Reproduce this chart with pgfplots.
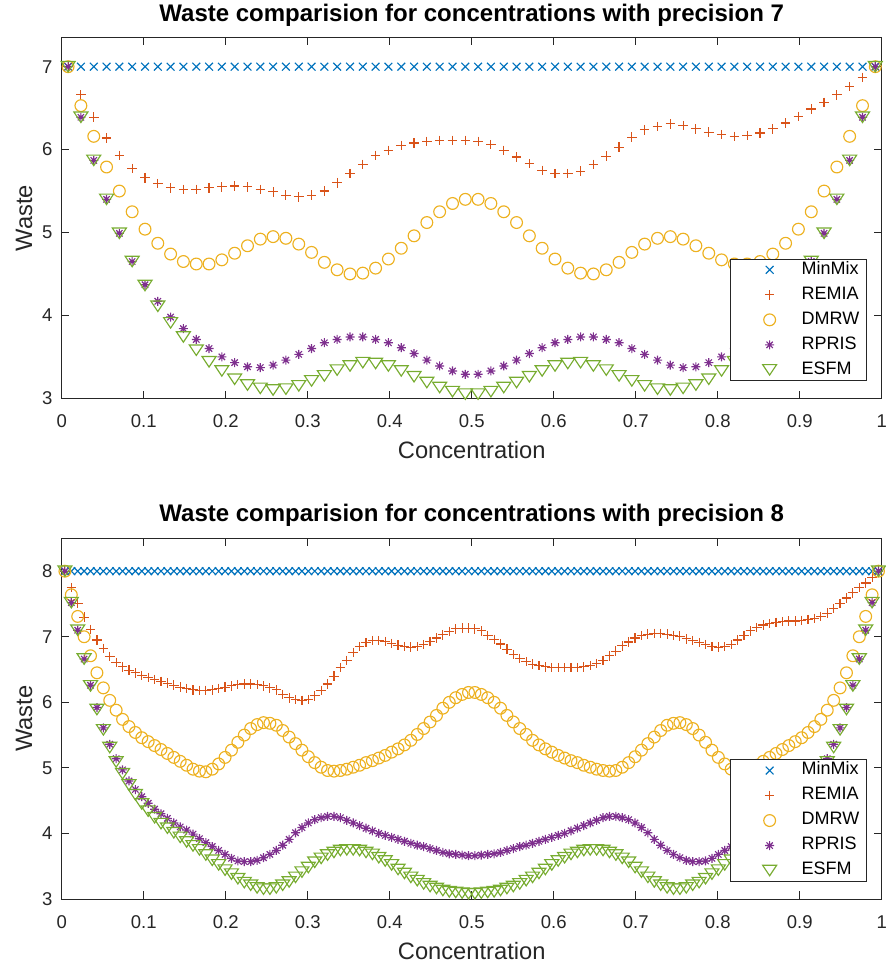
\documentclass[border=0pt]{standalone}
\usepackage{fontspec}
\setmainfont{Liberation Sans}
\usepackage{pgfplots}
\usepackage{pgfplotstable}
\pgfplotsset{compat=1.18}
\definecolor{c1}{rgb}{0,0.447,0.741}
\definecolor{c2}{rgb}{0.85,0.325,0.098}
\definecolor{c3}{rgb}{0.929,0.694,0.125}
\definecolor{c4}{rgb}{0.494,0.184,0.556}
\definecolor{c5}{rgb}{0.466,0.674,0.188}
\definecolor{ax}{rgb}{0.15,0.15,0.15}
\pgfdeclareplotmark{mstar}{%
 \pgfpathmoveto{\pgfqpoint{-\pgfplotmarksize}{0pt}}\pgfpathlineto{\pgfqpoint{\pgfplotmarksize}{0pt}}%
 \pgfpathmoveto{\pgfqpoint{0pt}{-\pgfplotmarksize}}\pgfpathlineto{\pgfqpoint{0pt}{\pgfplotmarksize}}%
 \pgfpathmoveto{\pgfqpoint{-.7071\pgfplotmarksize}{-.7071\pgfplotmarksize}}\pgfpathlineto{\pgfqpoint{.7071\pgfplotmarksize}{.7071\pgfplotmarksize}}%
 \pgfpathmoveto{\pgfqpoint{-.7071\pgfplotmarksize}{.7071\pgfplotmarksize}}\pgfpathlineto{\pgfqpoint{.7071\pgfplotmarksize}{-.7071\pgfplotmarksize}}%
 \pgfusepathqstroke}
\pgfdeclareplotmark{mtri}{%
 \pgfpathmoveto{\pgfqpoint{-\pgfplotmarksize}{.75\pgfplotmarksize}}%
 \pgfpathlineto{\pgfqpoint{\pgfplotmarksize}{.75\pgfplotmarksize}}%
 \pgfpathlineto{\pgfqpoint{0pt}{-.75\pgfplotmarksize}}%
 \pgfpathclose\pgfusepathqstroke}

\pgfplotstableread{
x m r d p e
0.0078 7 7.00 7.00 7.00 7.00
0.0234 7 6.66 6.53 6.39 6.39
0.0391 7 6.39 6.16 5.87 5.87
0.0547 7 6.14 5.79 5.40 5.40
0.0703 7 5.93 5.50 4.99 4.99
0.0859 7 5.77 5.25 4.65 4.65
0.1016 7 5.66 5.04 4.37 4.36
0.1172 7 5.59 4.87 4.17 4.11
0.1328 7 5.54 4.74 3.98 3.91
0.1484 7 5.52 4.65 3.84 3.74
0.1641 7 5.52 4.62 3.71 3.58
0.1797 7 5.54 4.62 3.60 3.44
0.1953 7 5.55 4.67 3.50 3.33
0.2109 7 5.56 4.75 3.43 3.23
0.2266 7 5.55 4.84 3.38 3.16
0.2422 7 5.52 4.92 3.37 3.12
0.2578 7 5.49 4.95 3.40 3.10
0.2734 7 5.45 4.93 3.46 3.11
0.2891 7 5.43 4.86 3.53 3.15
0.3047 7 5.45 4.76 3.60 3.21
0.3203 7 5.50 4.64 3.67 3.27
0.3359 7 5.60 4.55 3.71 3.34
0.3516 7 5.71 4.50 3.74 3.39
0.3672 7 5.82 4.51 3.74 3.43
0.3828 7 5.93 4.57 3.71 3.42
0.3984 7 5.99 4.68 3.67 3.39
0.4141 7 6.05 4.81 3.61 3.33
0.4297 7 6.08 4.96 3.54 3.26
0.4453 7 6.10 5.12 3.46 3.19
0.4609 7 6.11 5.25 3.39 3.13
0.4766 7 6.11 5.35 3.33 3.08
0.4922 7 6.11 5.40 3.29 3.05
0.5078 7 6.10 5.40 3.29 3.05
0.5234 7 6.06 5.35 3.33 3.08
0.5391 7 5.99 5.25 3.39 3.13
0.5547 7 5.91 5.12 3.46 3.19
0.5703 7 5.83 4.96 3.54 3.26
0.5859 7 5.75 4.81 3.61 3.33
0.6016 7 5.71 4.68 3.67 3.39
0.6172 7 5.71 4.57 3.71 3.42
0.6328 7 5.74 4.51 3.74 3.43
0.6484 7 5.82 4.50 3.74 3.39
0.6641 7 5.92 4.55 3.71 3.34
0.6797 7 6.03 4.64 3.67 3.27
0.6953 7 6.15 4.76 3.60 3.21
0.7109 7 6.24 4.86 3.53 3.15
0.7266 7 6.28 4.93 3.46 3.11
0.7422 7 6.31 4.95 3.40 3.10
0.7578 7 6.29 4.92 3.37 3.12
0.7734 7 6.25 4.84 3.38 3.16
0.7891 7 6.21 4.75 3.43 3.23
0.8047 7 6.18 4.67 3.50 3.33
0.8203 7 6.16 4.62 3.60 3.44
0.8359 7 6.17 4.62 3.71 3.58
0.8516 7 6.20 4.65 3.84 3.74
0.8672 7 6.25 4.74 3.98 3.91
0.8828 7 6.32 4.87 4.17 4.11
0.8984 7 6.40 5.04 4.37 4.36
0.9141 7 6.49 5.25 4.65 4.65
0.9297 7 6.57 5.50 4.99 4.99
0.9453 7 6.66 5.79 5.40 5.40
0.9609 7 6.76 6.16 5.87 5.87
0.9766 7 6.87 6.53 6.39 6.39
0.9922 7 7.00 7.00 7.00 7.00
}\topdata

\pgfplotstableread{
x m r d p e
0.00391 8 8.00 8.00 8.00 8.00
0.01172 8 7.75 7.64 7.52 7.52
0.01953 8 7.51 7.31 7.10 7.10
0.02734 8 7.30 7.00 6.66 6.66
0.03516 8 7.11 6.71 6.26 6.25
0.04297 8 6.95 6.45 5.92 5.89
0.05078 8 6.82 6.22 5.61 5.58
0.05859 8 6.70 6.03 5.36 5.31
0.06641 8 6.61 5.88 5.14 5.09
0.07422 8 6.54 5.74 4.97 4.91
0.08203 8 6.49 5.63 4.80 4.74
0.08984 8 6.45 5.54 4.67 4.59
0.09766 8 6.41 5.46 4.56 4.45
0.10547 8 6.38 5.40 4.46 4.34
0.11328 8 6.35 5.34 4.37 4.24
0.12109 8 6.32 5.28 4.30 4.15
0.12891 8 6.29 5.22 4.23 4.08
0.13672 8 6.26 5.16 4.16 4.01
0.14453 8 6.23 5.10 4.10 3.94
0.15234 8 6.21 5.04 4.05 3.87
0.16016 8 6.19 4.98 3.99 3.81
0.16797 8 6.18 4.95 3.92 3.75
0.17578 8 6.18 4.94 3.86 3.67
0.18359 8 6.19 4.98 3.80 3.59
0.19141 8 6.21 5.06 3.74 3.52
0.19922 8 6.23 5.16 3.68 3.44
0.20703 8 6.25 5.27 3.62 3.38
0.21484 8 6.27 5.39 3.58 3.31
0.22266 8 6.28 5.50 3.57 3.25
0.23047 8 6.28 5.60 3.57 3.21
0.23828 8 6.27 5.66 3.59 3.17
0.24609 8 6.25 5.69 3.63 3.15
0.25391 8 6.22 5.68 3.68 3.15
0.26172 8 6.19 5.65 3.74 3.17
0.26953 8 6.12 5.57 3.82 3.21
0.27734 8 6.07 5.47 3.91 3.26
0.28516 8 6.04 5.37 4.01 3.33
0.29297 8 6.03 5.27 4.09 3.41
0.30078 8 6.04 5.17 4.16 3.48
0.30859 8 6.10 5.08 4.21 3.56
0.31641 8 6.18 5.01 4.24 3.62
0.32422 8 6.28 4.96 4.26 3.67
0.33203 8 6.40 4.95 4.26 3.71
0.33984 8 6.53 4.96 4.24 3.74
0.34766 8 6.64 4.98 4.20 3.75
0.35547 8 6.76 5.01 4.16 3.75
0.36328 8 6.85 5.04 4.12 3.74
0.37109 8 6.91 5.08 4.08 3.71
0.37891 8 6.94 5.11 4.04 3.68
0.38672 8 6.94 5.15 4.00 3.63
0.39453 8 6.93 5.19 3.97 3.58
0.40234 8 6.90 5.24 3.94 3.52
0.41016 8 6.87 5.29 3.91 3.45
0.41797 8 6.85 5.35 3.88 3.39
0.42578 8 6.84 5.42 3.85 3.33
0.43359 8 6.85 5.51 3.82 3.28
0.44141 8 6.88 5.60 3.80 3.23
0.44922 8 6.93 5.70 3.77 3.19
0.45703 8 6.98 5.80 3.74 3.16
0.46484 8 7.03 5.91 3.71 3.13
0.47266 8 7.08 6.00 3.69 3.11
0.48047 8 7.12 6.07 3.68 3.10
0.48828 8 7.13 6.12 3.67 3.09
0.49609 8 7.13 6.15 3.66 3.08
0.50391 8 7.12 6.15 3.66 3.08
0.51172 8 7.09 6.12 3.67 3.09
0.51953 8 7.02 6.07 3.68 3.10
0.52734 8 6.96 6.00 3.69 3.11
0.53516 8 6.89 5.91 3.71 3.13
0.54297 8 6.81 5.80 3.74 3.16
0.55078 8 6.73 5.70 3.77 3.19
0.55859 8 6.67 5.60 3.80 3.23
0.56641 8 6.62 5.51 3.82 3.28
0.57422 8 6.58 5.42 3.85 3.33
0.58203 8 6.56 5.35 3.88 3.39
0.58984 8 6.54 5.29 3.91 3.45
0.59766 8 6.53 5.24 3.94 3.52
0.60547 8 6.53 5.19 3.97 3.58
0.61328 8 6.53 5.15 4.00 3.63
0.62109 8 6.53 5.11 4.04 3.68
0.62891 8 6.53 5.08 4.08 3.71
0.63672 8 6.54 5.04 4.12 3.74
0.64453 8 6.56 5.01 4.16 3.75
0.65234 8 6.59 4.98 4.20 3.75
0.66016 8 6.64 4.96 4.24 3.74
0.66797 8 6.71 4.95 4.26 3.71
0.67578 8 6.78 4.96 4.26 3.67
0.68359 8 6.86 5.01 4.24 3.62
0.69141 8 6.92 5.08 4.21 3.56
0.69922 8 6.98 5.17 4.16 3.48
0.70703 8 7.02 5.27 4.09 3.41
0.71484 8 7.04 5.37 4.01 3.33
0.72266 8 7.05 5.47 3.91 3.26
0.73047 8 7.05 5.57 3.82 3.21
0.73828 8 7.04 5.65 3.74 3.17
0.74609 8 7.02 5.68 3.68 3.15
0.75391 8 7.01 5.69 3.63 3.15
0.76172 8 6.97 5.66 3.59 3.17
0.76953 8 6.94 5.60 3.57 3.21
0.77734 8 6.91 5.50 3.57 3.25
0.78516 8 6.88 5.39 3.58 3.31
0.79297 8 6.85 5.27 3.62 3.38
0.80078 8 6.84 5.16 3.68 3.44
0.80859 8 6.85 5.06 3.74 3.52
0.81641 8 6.88 4.98 3.80 3.59
0.82422 8 6.95 4.94 3.86 3.67
0.83203 8 7.02 4.95 3.92 3.75
0.83984 8 7.09 4.98 3.99 3.81
0.84766 8 7.14 5.04 4.05 3.87
0.85547 8 7.18 5.10 4.10 3.94
0.86328 8 7.20 5.16 4.16 4.01
0.87109 8 7.22 5.22 4.23 4.08
0.87891 8 7.23 5.28 4.30 4.15
0.88672 8 7.24 5.34 4.37 4.24
0.89453 8 7.24 5.40 4.46 4.34
0.90234 8 7.25 5.46 4.56 4.45
0.91016 8 7.26 5.54 4.67 4.59
0.91797 8 7.28 5.63 4.80 4.74
0.92578 8 7.31 5.74 4.97 4.91
0.93359 8 7.36 5.88 5.14 5.09
0.94141 8 7.43 6.03 5.36 5.31
0.94922 8 7.51 6.22 5.61 5.58
0.95703 8 7.59 6.45 5.92 5.89
0.96484 8 7.67 6.71 6.26 6.25
0.97266 8 7.75 7.00 6.66 6.66
0.98047 8 7.82 7.31 7.10 7.10
0.98828 8 7.91 7.64 7.52 7.52
0.99609 8 8.00 8.00 8.00 8.00
}\botdata

\pgfplotsset{
  leg/.style={legend image code/.code={\path[draw=none,fill=none] (0pt,0pt) -- (64pt,0pt); \draw[##1] plot coordinates {(35pt,0pt)};}},
  mstyle/.style={
    scale only axis, width=820pt, height=360.6pt,
    xmin=0, xmax=1,
    xtick={0,0.1,0.2,0.3,0.4,0.5,0.6,0.7,0.8,0.9,1},
    xticklabels={0,0.1,0.2,0.3,0.4,0.5,0.6,0.7,0.8,0.9,1},
    tick align=inside, major tick length=7.5pt,
    axis line style={draw=ax, line width=0.9pt},
    every tick/.style={draw=ax, line width=0.9pt},
    tick label style={font=\fontsize{18.5}{20}\selectfont, text=ax},
    xticklabel style={anchor=base, yshift=-29pt},
    yticklabel style={anchor=east, inner xsep=0pt, xshift=-9pt},
    /pgf/number format/assume math mode=true,
    title style={at={(axis description cs:0.5,1)}, anchor=base, yshift=10.5pt, font=\fontsize{24}{28}\selectfont\bfseries},
    xlabel style={at={(axis description cs:0.5,0)}, anchor=base, yshift=-60.5pt, font=\fontsize{23.7}{28}\selectfont, text=ax},
    ylabel style={at={(axis description cs:0,0.5)}, anchor=base, yshift=29.7pt, font=\fontsize{23.7}{28}\selectfont, text=ax},
    xlabel={Concentration}, ylabel={Waste},
    legend style={at={(axis description cs:1,0)}, anchor=south east, xshift=-15pt, yshift=17.3pt,
      draw=ax, line width=0.8pt, fill=white, inner xsep=4pt, inner ysep=2.5pt,
      font=\fontsize{18}{20}\selectfont, row sep=8.5pt,
      nodes={inner ysep=0pt, inner xsep=3pt, text height=12.5pt, text depth=4pt}},
    legend cell align=left,
  }
}

\begin{document}
\begin{tikzpicture}
\path[use as bounding box] (0pt,0pt) rectangle (885pt,965pt);
\begin{axis}[mstyle, at={(61.7pt,566.7pt)}, anchor=south west,
  ymin=3, ymax=7.35, ytick={3,4,5,6,7},
  title={Waste comparision for concentrations with precision 7}]
\addplot[only marks, leg, color=c1, mark=x, mark size=5.5pt, line width=1.15pt] table[x=x,y=m]{\topdata};
\addplot[only marks, leg, color=c2, mark=+, mark size=4.8pt, line width=1.15pt] table[x=x,y=r]{\topdata};
\addplot[only marks, leg, color=c3, mark=o, mark size=5.9pt, line width=1.15pt] table[x=x,y=d]{\topdata};
\addplot[only marks, leg, color=c4, mark=mstar, mark size=4.5pt, line width=1.15pt] table[x=x,y=p]{\topdata};
\addplot[only marks, leg, color=c5, mark=mtri, mark size=7pt, line width=1.15pt] table[x=x,y=e]{\topdata};
\legend{MinMix,REMIA,DMRW,RPRIS,ESFM}
\end{axis}
\begin{axis}[mstyle, at={(61.7pt,66pt)}, anchor=south west,
  ymin=3, ymax=8.5, ytick={3,4,5,6,7,8},
  title={Waste comparision for concentrations with precision 8}]
\addplot[only marks, leg, color=c1, mark=x, mark size=5.5pt, line width=1.15pt] table[x=x,y=m]{\botdata};
\addplot[only marks, leg, color=c2, mark=+, mark size=4.8pt, line width=1.15pt] table[x=x,y=r]{\botdata};
\addplot[only marks, leg, color=c3, mark=o, mark size=5.9pt, line width=1.15pt] table[x=x,y=d]{\botdata};
\addplot[only marks, leg, color=c4, mark=mstar, mark size=4.5pt, line width=1.15pt] table[x=x,y=p]{\botdata};
\addplot[only marks, leg, color=c5, mark=mtri, mark size=7pt, line width=1.15pt] table[x=x,y=e]{\botdata};
\legend{MinMix,REMIA,DMRW,RPRIS,ESFM}
\end{axis}
\end{tikzpicture}
\end{document}
